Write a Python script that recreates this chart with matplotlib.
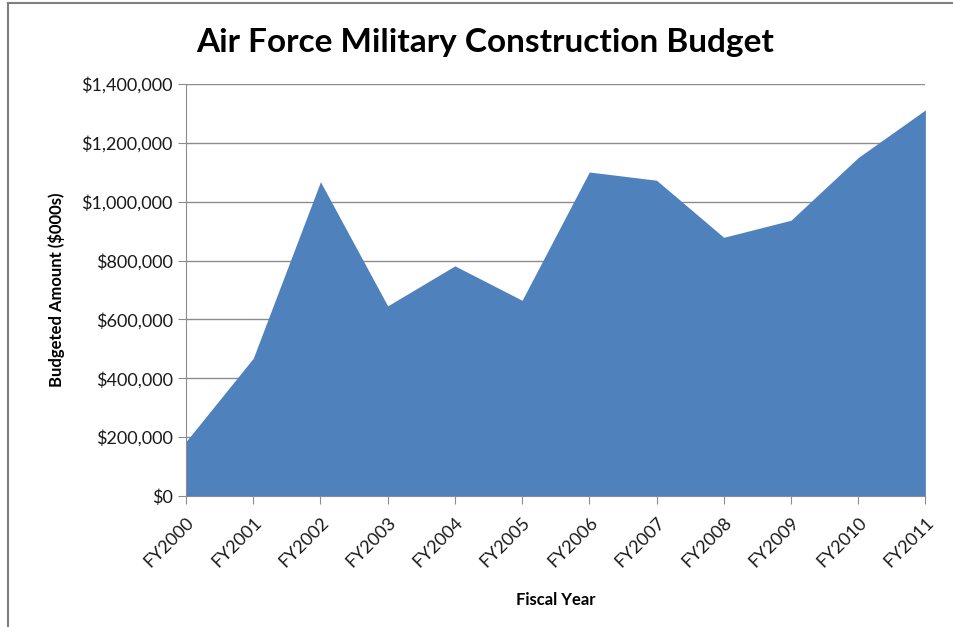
import matplotlib
matplotlib.use('Agg')
import matplotlib.pyplot as plt
from matplotlib.ticker import FuncFormatter
from matplotlib.lines import Line2D

# Budget values ($000s)
years = ['FY2000', 'FY2001', 'FY2002', 'FY2003', 'FY2004', 'FY2005',
         'FY2006', 'FY2007', 'FY2008', 'FY2009', 'FY2010', 'FY2011']
budget = [185000, 468000, 1068000, 646000, 782000, 665000,
          1101000, 1073000, 879000, 937000, 1150000, 1312000]
y_ticks = [0, 200000, 400000, 600000, 800000, 1000000, 1200000, 1400000]

plt.rcParams['font.family'] = ['Lato', 'DejaVu Sans']

fig = plt.figure(figsize=(9.54, 6.27), dpi=100)
ax = fig.add_axes([0.195, 0.209, 0.775, 0.657])

x = list(range(len(years)))
ax.fill_between(x, budget, 0, color='#4F81BD', linewidth=0, zorder=2)

ax.set_xlim(0, len(years) - 1)
ax.set_ylim(0, 1400000)
ax.set_yticks(y_ticks)
ax.yaxis.set_major_formatter(FuncFormatter(lambda v, p: '${:,.0f}'.format(v)))
ax.set_xticks(x)
ax.set_xticklabels(years, rotation=45, ha='right', rotation_mode='anchor')

ax.grid(axis='y', color='#8c8c8c', linewidth=1, zorder=1)
ax.set_axisbelow(True)
for s in ['top', 'right']:
    ax.spines[s].set_visible(False)
for s in ['left', 'bottom']:
    ax.spines[s].set_color('#8c8c8c')
    ax.spines[s].set_zorder(3)
ax.tick_params(axis='both', colors='#8c8c8c', labelcolor='#1a1a1a',
               labelsize=13, length=6, direction='out')
ax.tick_params(axis='x', pad=7)

ax.set_xlabel('Fiscal Year', fontsize=12, fontweight='bold', labelpad=16)
ax.set_ylabel('Budgeted Amount ($000s)', fontsize=12, fontweight='bold', labelpad=12)
fig.suptitle('Air Force Military Construction Budget', fontsize=24,
             fontweight='bold', x=0.509, y=0.955)

# frame of the chart object, cropped at left and top
fig.add_artist(Line2D([0.008, 0.008], [0, 0.995], transform=fig.transFigure,
                      color='#7f7f7f', linewidth=1.5))
fig.add_artist(Line2D([0.008, 1.0], [0.995, 0.995], transform=fig.transFigure,
                      color='#7f7f7f', linewidth=1.5))

fig.savefig('out.png', dpi=100)
